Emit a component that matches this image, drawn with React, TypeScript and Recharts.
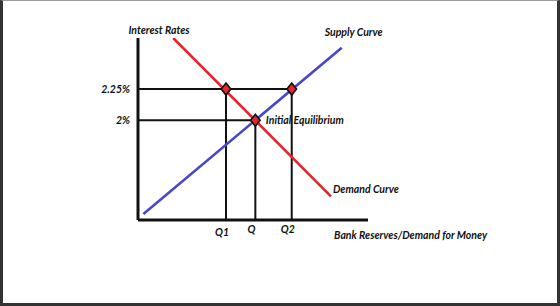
import {
  ComposedChart,
  Line,
  Scatter,
  XAxis,
  YAxis,
  ReferenceLine,
  ReferenceDot,
} from 'recharts';

// quantity (x) and interest rate in % (y)
const demandCurve = [
  { q: 1.5, rate: 2.66 },
  { q: 8.22, rate: 1.39 },
];
const supplyCurve = [
  { q: 0.23, rate: 1.248 },
  { q: 8.68, rate: 2.582 },
];
const points = [
  { q: 3.75, rate: 2.25 },
  { q: 5, rate: 2.0 },
  { q: 6.55, rate: 2.25 },
];
const rateTicks = [2, 2.25];
const rateLabels = ['2%', '2.25%'];
const quantityTicks = [3.75, 5, 6.55];
const quantityLabels = ['Q1', 'Q', 'Q2'];

const FONT = 'Lato, "Open Sans", sans-serif';
const FS = 10.5;
const RED = '#e3262c';
const BLUE = '#4747c9';
const INK = '#111';

const Diamond = (props: any) => {
  const { cx, cy } = props;
  const w = 4.8;
  const h = 6;
  return (
    <polygon
      points={`${cx},${cy - h} ${cx + w},${cy} ${cx},${cy + h} ${cx - w},${cy}`}
      fill={RED}
      stroke={INK}
      strokeWidth={1.6}
    />
  );
};

const note = (text: string, dx: number, dy: number) => (props: any) => {
  const { viewBox } = props;
  const x = viewBox.x + viewBox.width / 2;
  const y = viewBox.y + viewBox.height / 2;
  return (
    <text x={x + dx} y={y + dy} fontFamily={FONT} fontSize={FS} fontWeight={700} fontStyle="italic" fill={INK}>
      {text}
    </text>
  );
};

const QTick = (props: any) => {
  const { x, y, payload, index } = props;
  const dy = index === 0 ? 7.5 : 4.5;
  return (
    <text x={x - 4} y={y + dy} textAnchor="middle" fontFamily={FONT} fontSize={FS} fontWeight={700} fontStyle="italic" fill={INK}>
      {quantityLabels[quantityTicks.indexOf(payload.value)]}
    </text>
  );
};

const RateTick = (props: any) => {
  const { x, y, payload } = props;
  return (
    <text x={x} y={y + 3.5} textAnchor="end" fontFamily={FONT} fontSize={FS} fontWeight={700} fontStyle="italic" fill={INK}>
      {rateLabels[rateTicks.indexOf(payload.value)]}
    </text>
  );
};

export default function App() {
  return (
    <div
      style={{
        position: 'absolute',
        left: 0,
        top: 0,
        width: 560,
        height: 306,
        boxSizing: 'border-box',
        background: '#fff',
        borderTop: '1px solid #9a9a9a',
        borderLeft: '3px solid #333',
        borderRight: '3px solid #333',
        borderBottom: '3px solid #333',
      }}
    >
      <div style={{ position: 'absolute', left: -3, top: -1 }}>
        <ComposedChart width={560} height={306} margin={{ top: 38, right: 192, bottom: 66, left: 78 }}>
          <XAxis
            type="number"
            dataKey="q"
            domain={[0, 9.8]}
            ticks={quantityTicks}
            tick={<QTick />}
            tickLine={false}
            axisLine={{ stroke: INK, strokeWidth: 3 }}
            height={20}
            allowDataOverflow
            label={{ content: note('Bank Reserves/Demand for Money', 81, 9) }}
          />
          <YAxis
            type="number"
            dataKey="rate"
            domain={[1.2, 2.66]}
            ticks={rateTicks}
            tick={<RateTick />}
            tickLine={false}
            axisLine={{ stroke: INK, strokeWidth: 3 }}
            width={60}
            allowDataOverflow
            label={{ content: (p: any) => {
              const { viewBox } = p;
              return (
                <text
                  x={viewBox.x + viewBox.width + 21}
                  y={viewBox.y - 4}
                  textAnchor="middle"
                  fontFamily={FONT}
                  fontSize={FS}
                  fontWeight={700}
                  fontStyle="italic"
                  fill={INK}
                >
                  Interest Rates
                </text>
              );
            } }}
          />
          <ReferenceLine segment={[{ x: 0, y: points[0].rate }, { x: points[2].q, y: points[2].rate }]} stroke={INK} strokeWidth={2} ifOverflow="visible" />
          <ReferenceLine segment={[{ x: 0, y: points[1].rate }, { x: points[1].q, y: points[1].rate }]} stroke={INK} strokeWidth={2} ifOverflow="visible" />
          {points.map((p, i) => (
            <ReferenceLine
              key={i}
              segment={[{ x: p.q, y: 1.2 }, { x: p.q, y: p.rate }]}
              stroke={INK}
              strokeWidth={2}
              ifOverflow="visible"
            />
          ))}
          <Line data={demandCurve} dataKey="rate" stroke={RED} strokeWidth={2.6} dot={false} isAnimationActive={false} />
          <Line data={supplyCurve} dataKey="rate" stroke={BLUE} strokeWidth={2.6} dot={false} isAnimationActive={false} />
          <Scatter data={points} dataKey="rate" shape={<Diamond />} isAnimationActive={false} />
          <ReferenceDot x={supplyCurve[1].q} y={supplyCurve[1].rate} r={0} stroke="none" ifOverflow="visible" label={{ content: note('Supply Curve', -17, -12) }} />
          <ReferenceDot x={demandCurve[1].q} y={demandCurve[1].rate} r={0} stroke="none" ifOverflow="visible" label={{ content: note('Demand Curve', 2, -3) }} />
          <ReferenceDot x={points[1].q} y={points[1].rate} r={0} stroke="none" ifOverflow="visible" label={{ content: note('Initial Equilibrium', 10.5, 3.5) }} />
        </ComposedChart>
      </div>
    </div>
  );
}
